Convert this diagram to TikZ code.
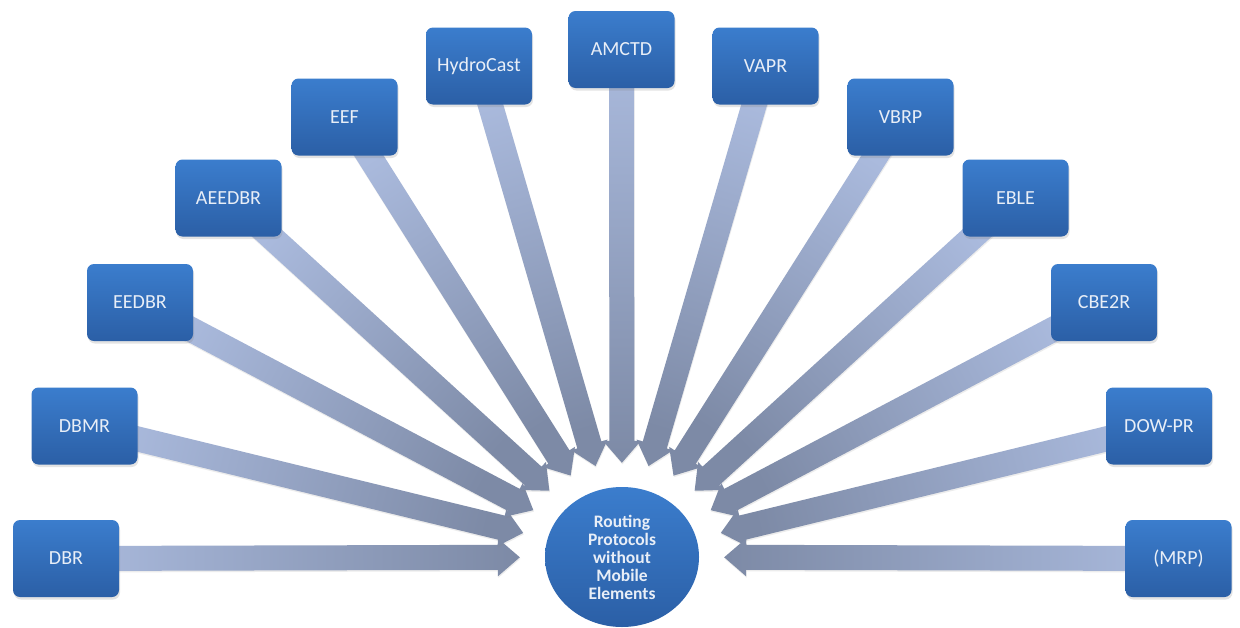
\documentclass[tikz,border=0pt]{standalone}
\usepackage{fontspec}
\setmainfont{Carlito}
\usetikzlibrary{calc,shapes.geometric,shadows}
\pgfdeclarelayer{bg}
\pgfsetlayers{bg,main}
\definecolor{boxtop}{HTML}{3B7DCD}
\definecolor{boxbot}{HTML}{2B5FA6}
\definecolor{arlight}{HTML}{AABADD}
\definecolor{ardark}{HTML}{7D8AA6}
\definecolor{txtc}{HTML}{E8EEF7}
\tikzset{
  proto/.style={rectangle, rounded corners=7pt, minimum width=106pt, minimum height=77pt,
    inner sep=0pt, top color=boxtop, bottom color=boxbot, text=txtc,
    font=\fontsize{20}{22}\selectfont,
    drop shadow={opacity=0.22, shadow xshift=1pt, shadow yshift=-2.5pt}},
  hubnode/.style={ellipse, minimum width=154pt, minimum height=140pt, inner sep=0pt,
    top color=boxtop, bottom color=boxbot, text=txtc, align=center,
    font=\bfseries\fontsize{17.5}{18}\selectfont},
  ringnode/.style={ellipse, minimum width=204pt, minimum height=188pt, inner sep=0pt},
  arrowshade/.style={top color=ardark, bottom color=arlight,
    drop shadow={opacity=0.15, shadow xshift=0.5pt, shadow yshift=-1.5pt}}
}
\newcommand\conn[1]{%
  \path (#1.center) -- (ring) coordinate[pos=1] (#1-t);
  \coordinate (#1-h) at ($(#1-t)!22pt!(#1.center)$);
  \path let \p1=($(#1-t)-(#1.center)$) in
    \pgfextra{\pgfmathsetmacro\tmpang{atan2(\y1,\x1)-90}\xdef\connang{\tmpang}};
  \shade[arrowshade, shading angle=\connang]
    ($(#1.center)!12.5pt!90:(#1-t)$) -- ($(#1-h)!12.5pt!90:(#1-t)$)
    -- ($(#1-h)!19pt!90:(#1-t)$) -- (#1-t) -- ($(#1-h)!19pt!-90:(#1-t)$)
    -- ($(#1-h)!12.5pt!-90:(#1-t)$) -- ($(#1.center)!12.5pt!-90:(#1-t)$) -- cycle;
}
\begin{document}
\begin{tikzpicture}[x=1pt, y=-1pt]
  \useasboundingbox (0,0) rectangle (1240,627);
  % hub
  \node[ringnode] (ring) at (622,557) {};
  \node[hubnode] (hub) at (622,557) {Routing\\Protocols\\without\\Mobile\\Elements};
  % protocol boxes
  \node[proto] (dbr)       at (66,558.5)    {DBR};
  \node[proto] (dbmr)      at (84.5,426)    {DBMR};
  \node[proto] (eedbr)     at (140,302.5)   {EEDBR};
  \node[proto] (aeedbr)    at (228.5,198)   {AEEDBR};
  \node[proto] (eef)       at (344.5,117)   {EEF};
  \node[proto] (hydrocast) at (479,66)      {HydroCast};
  \node[proto] (amctd)     at (621.5,49.5)  {AMCTD};
  \node[proto] (vapr)      at (765.5,66)    {VAPR};
  \node[proto] (vbrp)      at (900.5,117)   {VBRP};
  \node[proto] (eble)      at (1015.5,198)  {EBLE};
  \node[proto] (cbe2r)     at (1104,302.5)  {CBE2R};
  \node[proto] (dowpr)     at (1159,426)    {DOW-PR};
  \node[proto] (mrp)       at (1178.5,558.5){(MRP)};
  % connectors
  \begin{pgfonlayer}{bg}
    \fill[white] (0,0) rectangle (1240,627);
    \conn{dbr}\conn{dbmr}\conn{eedbr}\conn{aeedbr}\conn{eef}\conn{hydrocast}
    \conn{amctd}\conn{vapr}\conn{vbrp}\conn{eble}\conn{cbe2r}\conn{dowpr}\conn{mrp}
  \end{pgfonlayer}
\end{tikzpicture}
\end{document}
